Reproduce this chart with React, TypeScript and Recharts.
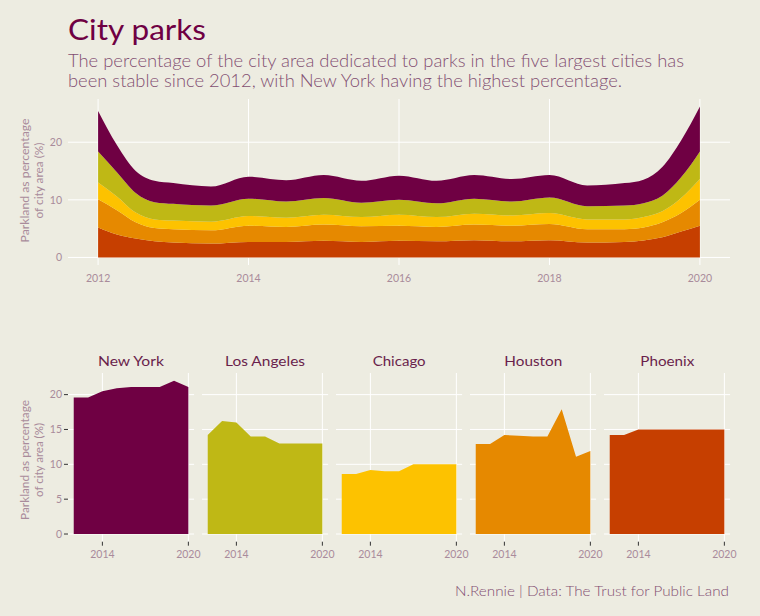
import React from 'react';
import { AreaChart, Area, XAxis, YAxis, CartesianGrid } from 'recharts';

// ---------- data ----------
const cities = ['New York', 'Los Angeles', 'Chicago', 'Houston', 'Phoenix'];
const cityColors = ['#6F0043', '#BFB815', '#FDC200', '#E68900', '#C63F00'];

// smoothed stacked band thickness (top chart)
const streamYears = [2012, 2012.25, 2012.5, 2012.75, 2013, 2013.5, 2014, 2014.5, 2015, 2015.5, 2016, 2016.5, 2017, 2017.5, 2018, 2018.5, 2019, 2019.25, 2019.5, 2019.75, 2020];
const streamPhoenix = [5.2, 4.0, 3.3, 2.8, 2.6, 2.4, 2.7, 2.7, 2.9, 2.7, 2.9, 2.8, 3.0, 2.8, 3.0, 2.6, 2.7, 2.95, 3.5, 4.5, 5.5];
const streamHouston = [4.9, 4.2, 2.8, 2.3, 2.3, 2.3, 2.8, 2.6, 2.8, 2.7, 2.6, 2.5, 2.7, 2.7, 2.8, 2.3, 2.2, 2.25, 2.6, 3.2, 4.5];
const streamChicago = [2.9, 2.4, 1.7, 1.5, 1.5, 1.5, 1.7, 1.6, 1.7, 1.6, 1.9, 1.7, 1.9, 1.8, 1.9, 1.7, 1.7, 1.8, 1.9, 2.6, 3.6];
const streamLA = [5.4, 4.2, 3.4, 3.0, 2.9, 2.8, 3.0, 2.8, 2.9, 2.5, 2.6, 2.4, 2.6, 2.4, 2.7, 2.3, 2.4, 2.4, 2.7, 3.6, 4.8];
const streamNY = [7.0, 4.7, 3.8, 3.7, 3.6, 3.3, 3.8, 3.7, 4.0, 3.8, 4.2, 3.9, 4.1, 3.9, 3.9, 3.6, 3.9, 4.1, 5.0, 6.4, 7.8];

const streamTicksX = [2012, 2014, 2016, 2018, 2020];
const streamTicksY = [0, 10, 20];

// per-city facets
const facetYears = [2012, 2013, 2014, 2015, 2016, 2017, 2018, 2019, 2020];
const nyPct = [19.6, 19.6, 20.5, 20.9, 21.1, 21.1, 21.1, 22.0, 21.1];
const laPct = [14.2, 16.2, 16.0, 14.0, 14.0, 13.0, 13.0, 13.0, 13.0];
const chicagoPct = [8.6, 8.6, 9.2, 9.0, 9.0, 10.0, 10.0, 10.0, 10.0];
const houstonPct = [12.9, 12.9, 14.2, 14.1, 14.0, 14.0, 17.9, 11.1, 11.9];
const phoenixPct = [14.2, 14.2, 15.0, 15.0, 15.0, 15.0, 15.0, 15.0, 15.0];
const facetTicksX = [2014, 2020];
const facetTicksY = [0, 5, 10, 15, 20];

const facetValues = [nyPct, laPct, chicagoPct, houstonPct, phoenixPct];

// ---------- styles ----------
const BG = '#EDECE1';
const TITLE = '#6F0043';
const SUB = '#834F72';
const TICK = '#A98B9B';
const STRIP = '#6A1F4C';
const FONT = 'Lato, "Open Sans", sans-serif';

const streamData = streamYears.map((y, i) => ({
  year: y,
  phoenix: streamPhoenix[i],
  houston: streamHouston[i],
  chicago: streamChicago[i],
  la: streamLA[i],
  ny: streamNY[i],
}));

const PANEL_W = 126.1;
const PANEL_PITCH = 134.1;
const PANEL_L0 = 67.9;
const LEFT_PAD = 40;
const RIGHT_PAD = 10;

const tickStyle = { fill: TICK, fontSize: 10.5 };
const hiddenTick = { fill: 'none', fontSize: 10.5 };

function Facet({ idx }: { idx: number }) {
  const values = facetValues[idx];
  const data = facetYears.map((y, i) => ({ year: y, v: values[i] }));
  const showY = idx === 0;
  const left = PANEL_L0 + idx * PANEL_PITCH;
  return (
    <div style={{ position: 'absolute', left: left - LEFT_PAD, top: 340 }}>
      <AreaChart
        width={LEFT_PAD + PANEL_W + RIGHT_PAD}
        height={230}
        data={data}
        margin={{ top: 33, right: RIGHT_PAD, bottom: 3.3, left: showY ? LEFT_PAD - 30 : LEFT_PAD }}
      >
        <CartesianGrid stroke="#FFFFFF" strokeWidth={1} syncWithTicks />
        <XAxis
          dataKey="year"
          type="number"
          domain={[2011.6, 2020.4]}
          ticks={facetTicksX}
          allowDataOverflow
          height={25}
          axisLine={false}
          tickSize={4}
          tickMargin={5}
          tickLine={{ stroke: '#333333' }}
          tick={tickStyle}
          interval={0}
        />
        <YAxis
          type="number"
          domain={[-1.1, 23.1]}
          ticks={facetTicksY}
          allowDataOverflow
          width={showY ? 30 : 0}
          axisLine={false}
          tickSize={4}
          tickMargin={2}
          tickLine={showY ? { stroke: '#333333' } : false}
          tick={showY ? tickStyle : hiddenTick}
          interval={0}
        />
        <Area
          dataKey="v"
          type="linear"
          fill={cityColors[idx]}
          fillOpacity={1}
          stroke="none"
          isAnimationActive={false}
        />
      </AreaChart>
    </div>
  );
}

export default function App() {
  const stripLens = [66, 80, 53, 58, 54];
  return (
    <div
      style={{
        position: 'absolute',
        left: 0,
        top: 0,
        width: 760,
        height: 616,
        background: BG,
        fontFamily: FONT,
        overflow: 'hidden',
      }}
    >
      <div style={{ position: 'absolute', left: 0, top: 0 }}>
        <AreaChart
          width={760}
          height={300}
          data={streamData}
          margin={{ top: 99, right: 30, bottom: 5, left: 28 }}
        >
          <CartesianGrid stroke="#FFFFFF" strokeWidth={1} syncWithTicks />
          <XAxis
            dataKey="year"
            type="number"
            domain={[2011.6, 2020.4]}
            ticks={streamTicksX}
            allowDataOverflow
            height={30}
            axisLine={false}
            tickLine={false}
            tickSize={0}
            tickMargin={10}
            tick={tickStyle}
            interval={0}
          />
          <YAxis
            type="number"
            domain={[-1.31, 27.5]}
            ticks={streamTicksY}
            allowDataOverflow
            width={40}
            axisLine={false}
            tickLine={false}
            tickSize={0}
            tickMargin={6}
            tick={tickStyle}
            interval={0}
          />
          <Area dataKey="phoenix" stackId="s" type="monotone" fill={cityColors[4]} fillOpacity={1} stroke="none" isAnimationActive={false} />
          <Area dataKey="houston" stackId="s" type="monotone" fill={cityColors[3]} fillOpacity={1} stroke="none" isAnimationActive={false} />
          <Area dataKey="chicago" stackId="s" type="monotone" fill={cityColors[2]} fillOpacity={1} stroke="none" isAnimationActive={false} />
          <Area dataKey="la" stackId="s" type="monotone" fill={cityColors[1]} fillOpacity={1} stroke="none" isAnimationActive={false} />
          <Area dataKey="ny" stackId="s" type="monotone" fill={cityColors[0]} fillOpacity={1} stroke="none" isAnimationActive={false} />
        </AreaChart>
      </div>

      {cities.map((c, i) => (
        <Facet key={c} idx={i} />
      ))}

      <svg
        width={760}
        height={616}
        style={{ position: 'absolute', left: 0, top: 0, pointerEvents: 'none', fontFamily: FONT }}
      >
        <text x={68} y={40} fontSize={28} fill={TITLE} textLength={138} lengthAdjust="spacingAndGlyphs">
          City parks
        </text>
        <text x={68} y={66.5} fontSize={17.5} fontWeight={300} fill={SUB} textLength={616} lengthAdjust="spacingAndGlyphs">
          The percentage of the city area dedicated to parks in the five largest cities has
        </text>
        <text x={68} y={87} fontSize={17.5} fontWeight={300} fill={SUB} textLength={554} lengthAdjust="spacingAndGlyphs">
          been stable since 2012, with New York having the highest percentage.
        </text>

        {/* top axis title */}
        <g transform="translate(29,180.5) rotate(-90)">
          <text x={0} y={0} fontSize={11} fill={TICK} textAnchor="middle" textLength={124} lengthAdjust="spacingAndGlyphs">
            Parkland as percentage
          </text>
        </g>
        <g transform="translate(43,180.5) rotate(-90)">
          <text x={0} y={0} fontSize={11} fill={TICK} textAnchor="middle" textLength={76} lengthAdjust="spacingAndGlyphs">
            of city area (%)
          </text>
        </g>

        {/* bottom axis title */}
        <g transform="translate(29,460) rotate(-90)">
          <text x={0} y={0} fontSize={11} fill={TICK} textAnchor="middle" textLength={120} lengthAdjust="spacingAndGlyphs">
            Parkland as percentage
          </text>
        </g>
        <g transform="translate(43,460) rotate(-90)">
          <text x={0} y={0} fontSize={11} fill={TICK} textAnchor="middle" textLength={74} lengthAdjust="spacingAndGlyphs">
            of city area (%)
          </text>
        </g>

        {cities.map((c, i) => (
          <text
            key={c}
            x={PANEL_L0 + i * PANEL_PITCH + PANEL_W / 2}
            y={366}
            fontSize={14}
            fill={STRIP}
            textAnchor="middle"
            textLength={stripLens[i]}
            lengthAdjust="spacingAndGlyphs"
          >
            {c}
          </text>
        ))}

        <text x={729} y={596} fontSize={14.5} fontWeight={300} fill={SUB} textAnchor="end" textLength={274} lengthAdjust="spacingAndGlyphs">
          N.Rennie | Data: The Trust for Public Land
        </text>
      </svg>
    </div>
  );
}
